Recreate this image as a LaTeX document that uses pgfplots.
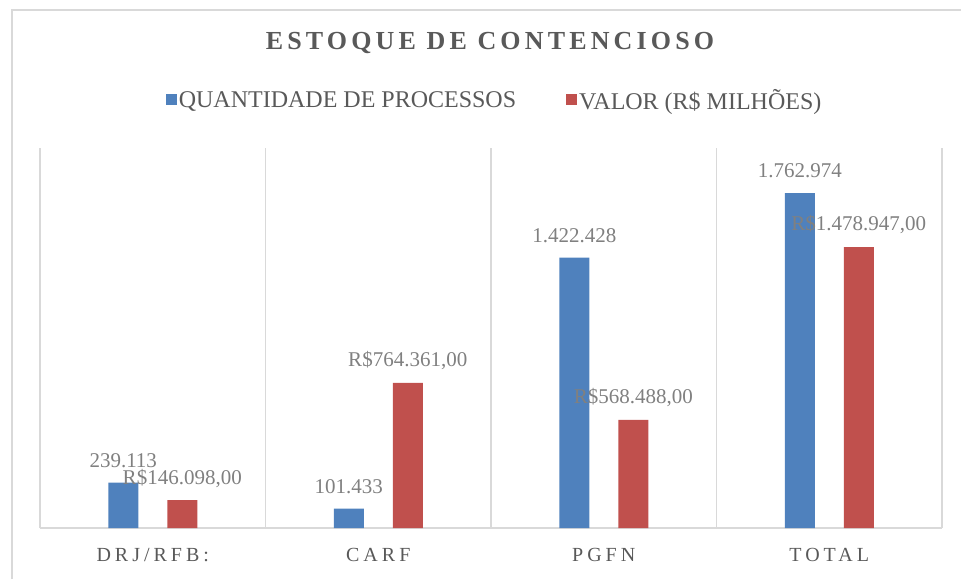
\documentclass[border=0pt]{standalone}
\usepackage{fontspec}
\setmainfont{Liberation Serif}
\newfontfamily\spacedfont[LetterSpace=20]{Liberation Serif}
\newfontfamily\titlefont[LetterSpace=16]{Liberation Serif}
\usepackage{pgfplots}
\pgfplotsset{compat=1.18}
\definecolor{xlblue}{HTML}{4F81BD}
\definecolor{xlred}{HTML}{C0504D}
\definecolor{gridgray}{HTML}{D9D9D9}
\definecolor{txtgray}{HTML}{595959}
\definecolor{lblgray}{HTML}{808080}
\begin{document}
\begin{tikzpicture}[x=1pt,y=1pt]
  \useasboundingbox (0,0) rectangle (961,579);
  % chart frame (cropped on right and bottom)
  \draw[gridgray,line width=1.5pt] (12,0) -- (12,569) -- (961,569);
  \node[font=\titlefont\bfseries\fontsize{26}{30}\selectfont,text=txtgray] at (490,536) {ESTOQUE DE CONTENCIOSO};
  \begin{axis}[
    at={(40pt,51pt)},anchor=south west,
    width=902pt,height=380pt,scale only axis,
    xmin=-0.5,xmax=3.5,ymin=0,ymax=2000000,
    scaled ticks=false,
    axis line style={draw=none},
    ytick=\empty,
    xtick={0,1,2,3},
    xticklabels={DRJ/RFB:,CARF,PGFN,TOTAL},
    major tick length=0pt,
    xticklabel style={font=\spacedfont\fontsize{20}{24}\selectfont,text=txtgray,yshift=-17pt},
    extra x ticks={-0.5,0.5,1.5,2.5,3.5},
    extra x tick labels={},
    extra x tick style={grid=major,major grid style={gridgray,line width=1.3pt}},
    extra y ticks={0},
    extra y tick labels={},
    extra y tick style={grid=major,major grid style={gridgray,line width=1.5pt}},
    ybar,bar width=30pt,
    /pgf/number format/assume math mode=true,
    nodes near coords style={font=\fontsize{21}{24}\selectfont,text=lblgray,anchor=center,yshift=22pt},
    legend columns=2,
    legend style={draw=none,fill=none,at={(0.504,1.126)},anchor=center,
      font=\fontsize{24}{28}\selectfont,text=txtgray,
      /tikz/every even column/.append style={column sep=48pt}},
    legend image code/.code={\fill[#1] (0pt,-5pt) rectangle (11pt,6pt);},
  ]
    \addplot[fill=xlblue,draw=none,bar shift=-29.5pt,
      nodes near coords={\pgfmathprintnumber[fixed,precision=0,1000 sep={.}]{\pgfplotspointmeta}}]
      coordinates {(0,239113) (1,101433) (2,1422428) (3,1762974)};
    \addlegendentry{QUANTIDADE DE PROCESSOS}
    \addplot[fill=xlred,draw=none,bar shift=29.5pt,
      nodes near coords={R\$\pgfmathprintnumber[fixed,fixed zerofill,precision=2,use comma,1000 sep={.}]{\pgfplotspointmeta}}]
      coordinates {(0,146098) (1,764361) (2,568488) (3,1478947)};
    \addlegendentry{VALOR (R\$ MILHÕES)}
  \end{axis}
\end{tikzpicture}
\end{document}
